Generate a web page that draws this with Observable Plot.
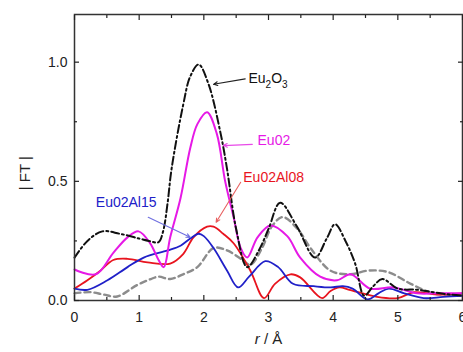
<!DOCTYPE html>
<html><head><meta charset="utf-8">
<script src="https://cdn.jsdelivr.net/npm/d3@7"></script>
<script src="https://cdn.jsdelivr.net/npm/@observablehq/plot@0.6"></script>
<style>body{margin:0;background:#fff} svg{display:block}</style>
</head><body><div id="chart"></div>
<script>
// ---- tick values ----
const xMajor = [0, 1, 2, 3, 4, 5, 6];
const xMinor = [0.5, 1.5, 2.5, 3.5, 4.5, 5.5];
const yMajor = [0, 0.5, 1.0];
const yMinor = [0.25, 0.75];

// ---- series (r in Å, |FT|) ----
const eu2o3R = [0, 0.2, 0.43, 0.7, 1.0, 1.15, 1.3, 1.37, 1.44, 1.5, 1.68, 1.79, 1.92, 2.07, 2.26, 2.36, 2.5, 2.67, 2.85, 3.0, 3.18, 3.44, 3.72, 3.9, 4.03, 4.19, 4.34, 4.48, 4.62, 4.76, 5.0, 5.3, 5.55, 5.8, 6.0];
const eu2o3V = [0.18, 0.25, 0.29, 0.28, 0.26, 0.25, 0.245, 0.29, 0.41, 0.55, 0.82, 0.94, 0.99, 0.91, 0.70, 0.55, 0.30, 0.14, 0.21, 0.30, 0.41, 0.31, 0.18, 0.26, 0.32, 0.25, 0.155, 0.02, 0.06, 0.09, 0.05, 0.045, 0.035, 0.025, 0.02];

const eu02R = [0, 0.33, 0.6, 0.82, 0.99, 1.17, 1.3, 1.38, 1.48, 1.64, 1.79, 1.9, 2.05, 2.2, 2.33, 2.46, 2.57, 2.67, 2.83, 3.03, 3.29, 3.49, 3.8, 4.06, 4.27, 4.57, 4.93, 5.3, 5.6, 6.0];
const eu02V = [0.13, 0.11, 0.20, 0.265, 0.29, 0.24, 0.17, 0.14, 0.265, 0.43, 0.64, 0.74, 0.79, 0.70, 0.50, 0.35, 0.22, 0.18, 0.265, 0.315, 0.27, 0.18, 0.10, 0.085, 0.11, 0.05, 0.055, 0.03, 0.03, 0.03];

const al08R = [0, 0.2, 0.4, 0.6, 0.82, 1.13, 1.48, 1.68, 1.84, 2.05, 2.15, 2.3, 2.46, 2.72, 2.93, 3.1, 3.34, 3.49, 3.83, 3.96, 4.1, 4.25, 4.68, 5.0, 5.25, 5.6, 6.0];
const al08V = [0.05, 0.085, 0.125, 0.17, 0.175, 0.16, 0.155, 0.195, 0.265, 0.31, 0.31, 0.28, 0.24, 0.125, 0.01, 0.07, 0.11, 0.097, 0.01, 0.04, 0.055, 0.045, 0.015, 0.01, 0.035, 0.025, 0.03];

const al15R = [0, 0.2, 0.51, 0.82, 1.07, 1.44, 1.64, 1.79, 1.92, 2.0, 2.15, 2.36, 2.53, 2.7, 2.95, 3.15, 3.38, 3.7, 3.96, 4.15, 4.3, 4.53, 4.7, 4.86, 5.1, 5.4, 5.7, 6.0];
const al15V = [0.05, 0.045, 0.085, 0.14, 0.18, 0.21, 0.23, 0.26, 0.28, 0.27, 0.22, 0.125, 0.055, 0.10, 0.165, 0.14, 0.07, 0.06, 0.055, 0.06, 0.05, 0.005, 0.03, 0.05, 0.03, 0.01, 0.015, 0.02];

const refR = [0, 0.25, 0.45, 0.66, 0.97, 1.18, 1.3, 1.48, 1.68, 1.9, 2.15, 2.36, 2.6, 2.72, 2.9, 3.05, 3.22, 3.45, 3.65, 3.96, 4.27, 4.53, 4.84, 5.2, 5.55, 6.0];
const refV = [0.03, 0.035, 0.025, 0.017, 0.065, 0.09, 0.10, 0.09, 0.11, 0.14, 0.22, 0.21, 0.17, 0.15, 0.22, 0.31, 0.35, 0.30, 0.22, 0.125, 0.11, 0.125, 0.12, 0.07, 0.03, 0.025];

// ---- annotations ----
const labelText = ["Eu2O3", "Eu02", "Eu02Al08", "Eu02Al15"];
const labelR = [2.69, 2.83, 2.61, 0.33];
const labelV = [0.93, 0.67, 0.517, 0.41];
const arrowR1 = [2.64, 2.75, 2.57, 1.14];
const arrowV1 = [0.93, 0.655, 0.496, 0.349];
const arrowR2 = [2.15, 2.30, 2.19, 1.79];
const arrowV2 = [0.907, 0.65, 0.328, 0.265];

// axis titles
const xTitle = "r / Å";
const yTitle = "| FT |";
const yTitlePos = 0.534;

const toRows = (R, V) => R.map((r, i) => ({r, v: V[i]}));
const labels = labelText.map((t, i) => ({t, r: labelR[i], v: labelV[i], r1: arrowR1[i], v1: arrowV1[i], r2: arrowR2[i], v2: arrowV2[i]}));
const labelColor = {"Eu2O3": "#111", "Eu02": "#e619e6", "Eu02Al08": "#e8141e", "Eu02Al15": "#2020c8"};
const arrowColor = {"Eu2O3": "#222", "Eu02": "#e84ae8", "Eu02Al08": "#e86060", "Eu02Al15": "#7070e0"};

const line = (R, V, o) => Plot.line(toRows(R, V), {x: "r", y: "v", curve: "catmull-rom", ...o});

const chart = Plot.plot({
  width: 463, height: 352,
  marginLeft: 74, marginRight: 1, marginTop: 14, marginBottom: 52,
  x: {domain: [0, 6]},
  y: {domain: [0, 1.2]},
  style: {fontFamily: "'Liberation Sans', Arial, sans-serif", fontSize: "14px", background: "white", color: "#222"},
  marks: [
    // curves
    line(refR, refV, {stroke: "#8c8c8c", strokeWidth: 2.4, strokeDasharray: "6,4"}),
    line(al08R, al08V, {stroke: "#e8141e", strokeWidth: 1.8}),
    line(al15R, al15V, {stroke: "#2020c8", strokeWidth: 1.8}),
    line(eu02R, eu02V, {stroke: "#e619e6", strokeWidth: 2}),
    line(eu2o3R, eu2o3V, {stroke: "#111", strokeWidth: 2, strokeDasharray: "8,3,2,3"}),
    // arrows + labels
    Plot.arrow(labels, {x1: "r1", y1: "v1", x2: "r2", y2: "v2", stroke: d => arrowColor[d.t], strokeWidth: 1.1, headLength: 6, headAngle: 50}),
    Plot.text(labels, {x: "r", y: "v", text: "t", fill: d => labelColor[d.t], textAnchor: "start", fontSize: 14}),
    // frame
    Plot.frame({stroke: "#333", strokeWidth: 1.5}),
    // axes: labels
    Plot.axisX(xMajor, {anchor: "bottom", tickSize: 0, tickPadding: 12, tickFormat: d => d, fontSize: 14, label: null}),
    Plot.axisY(yMajor, {anchor: "left", tickSize: 0, tickPadding: 7, tickFormat: d3.format(".1f"), fontSize: 14, label: null}),
    // inward ticks
    Plot.axisX(xMajor, {anchor: "bottom", tickSize: -5, tickFormat: () => "", label: null, strokeWidth: 1.2}),
    Plot.axisX(xMinor, {anchor: "bottom", tickSize: -3, tickFormat: () => "", label: null, strokeWidth: 1.2}),
    Plot.axisX(xMajor, {anchor: "top", tickSize: -5, tickFormat: () => "", label: null, strokeWidth: 1.2}),
    Plot.axisX(xMinor, {anchor: "top", tickSize: -3, tickFormat: () => "", label: null, strokeWidth: 1.2}),
    Plot.axisY(yMajor, {anchor: "left", tickSize: -5, tickFormat: () => "", label: null, strokeWidth: 1.2}),
    Plot.axisY(yMinor, {anchor: "left", tickSize: -3, tickFormat: () => "", label: null, strokeWidth: 1.2}),
    Plot.axisY(yMajor, {anchor: "right", tickSize: -5, tickFormat: () => "", label: null, strokeWidth: 1.2}),
    Plot.axisY(yMinor, {anchor: "right", tickSize: -3, tickFormat: () => "", label: null, strokeWidth: 1.2}),
    // axis titles
    Plot.text([xTitle], {frameAnchor: "bottom", dy: 43, fontSize: 15, fill: "#222"}),
    Plot.text([yTitle], {x: 0, y: yTitlePos, dx: -49, rotate: -90, fontSize: 15, fill: "#222"})
  ]
});
document.getElementById("chart").appendChild(chart);

// rich text: subscripts and italic r
const NS = "http://www.w3.org/2000/svg";
function rich(t, parts) {
  t.textContent = "";
  for (const [s, opt] of parts) {
    const ts = document.createElementNS(NS, "tspan");
    ts.textContent = s;
    for (const k in opt) ts.setAttribute(k, opt[k]);
    t.appendChild(ts);
  }
}
chart.querySelectorAll("text").forEach(t => {
  if (t.textContent === "Eu2O3") rich(t, [["Eu", {}], ["2", {"font-size": 10, dy: 5}], ["O", {dy: -5}], ["3", {"font-size": 10, dy: 5}]]);
  if (t.textContent === xTitle) rich(t, [["r", {"font-style": "italic"}], [" / Å", {}]]);
});
</script>
</body></html>
